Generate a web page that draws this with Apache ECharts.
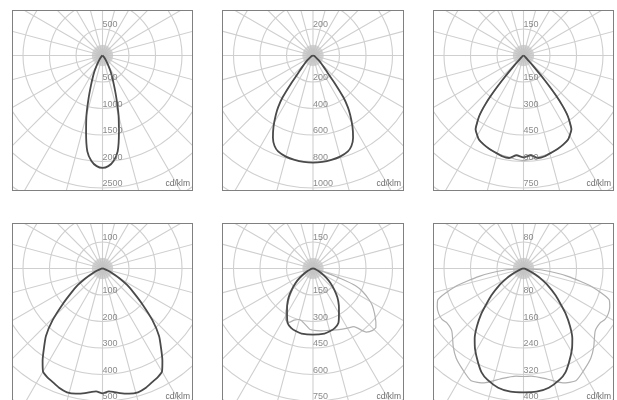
<!DOCTYPE html>
<html>
<head>
<meta charset="utf-8">
<script src="https://cdn.jsdelivr.net/npm/echarts@6/dist/echarts.min.js"></script>
<style>
  html, body { margin: 0; padding: 0; background: #fff; width: 617px; height: 400px; overflow: hidden; }
  .box { position: absolute; width: 181px; height: 181px; border: 1px solid #808080; box-sizing: border-box; overflow: hidden; background: #fff; }
  .box > div { width: 100%; height: 100%; }
</style>
</head>
<body>
<div class="box" style="left:12px;top:10px;"><div id="c1"></div></div>
<div class="box" style="left:222px;top:10px;width:182px;"><div id="c2"></div></div>
<div class="box" style="left:433px;top:10px;"><div id="c3"></div></div>
<div class="box" style="left:12px;top:223px;"><div id="c4"></div></div>
<div class="box" style="left:222px;top:223px;width:182px;"><div id="c5"></div></div>
<div class="box" style="left:433px;top:223px;"><div id="c6"></div></div>
<script>
// ---- ring steps and tick labels (cd/klm) ----
const steps = [500, 200, 150, 100, 150, 80];
const ticks1 = [500, 1000, 1500, 2000, 2500];
const ticks2 = [200, 400, 600, 800, 1000];
const ticks3 = [150, 300, 450, 600, 750];
const ticks4 = [100, 200, 300, 400, 500];
const ticks5 = [150, 300, 450, 600, 750];
const ticks6 = [80, 160, 240, 320, 400];
const unitLabel = 'cd/klm';

// ---- luminous intensity curves: gamma angle (deg from nadir) and value (cd/klm) ----
const p1Angles = [0, 3, 6, 9, 12, 15, 18, 21, 24, 27, 30, 35, 40, 45, 50, 60, 70, 80, 90];
const p1Dark   = [2120, 2090, 2000, 1830, 1490, 1170, 850, 610, 450, 330, 225, 113, 57, 30, 15, 6, 2, 0, 0];

const p2Angles = [0, 5, 10, 15, 20, 23, 26, 29, 32, 34, 36, 38, 40, 43, 46, 50, 60, 70, 80, 90];
const p2Dark   = [808, 806, 800, 790, 770, 742, 690, 615, 530, 470, 390, 270, 175, 120, 85, 55, 20, 8, 3, 0];

const p3Angles = [0, 4, 8, 12, 16, 20, 24, 28, 31, 33, 35, 36, 37, 38, 39, 40, 41, 42, 44, 47, 50, 60, 90];
const p3Dark   = [577, 566, 586, 583, 572, 563, 552, 538, 515, 498, 453, 430, 396, 351, 294, 226, 158, 102, 51, 23, 11, 6, 0];
const p3Light  = [595, 590, 582, 578, 572, 563, 552, 538, 515, 498, 453, 430, 396, 351, 294, 226, 158, 102, 51, 23, 11, 6, 0];

const p4Angles = [0, 3, 5, 8, 12, 16, 20, 24, 27, 30, 33, 36, 40, 44, 48, 52, 56, 60, 65, 70, 75, 80, 90];
const p4Dark   = [471, 464, 467, 475, 483, 486, 479, 467, 460, 449, 415, 377, 332, 271, 204, 151, 113, 75, 38, 19, 8, 4, 0];

const p5Angles = [0, 10, 15, 20, 25, 30, 35, 40, 45, 50, 55, 60, 65, 70, 80, 90];
const p5Dark   = [374, 374, 368, 359, 340, 294, 255, 215, 170, 130, 91, 57, 34, 17, 6, 0];
const p5LightRightAngles = [0, 8, 15, 23, 30, 35, 40, 44, 47, 50, 54, 58, 61, 65, 68, 70, 72, 75, 80, 90];
const p5LightRight       = [351, 357, 362, 376, 390, 402, 470, 487, 487, 464, 430, 396, 362, 311, 260, 170, 85, 34, 11, 0];
const p5LightLeftAngles  = [0, 3, 10, 15, 20, 24, 28, 32, 36, 40, 50, 60, 70, 90];
const p5LightLeft        = [350, 345, 311, 299, 311, 334, 328, 290, 240, 205, 125, 51, 11, 0];

const p6Angles = [0, 6, 12, 18, 22, 26, 31, 35, 39, 43, 46, 50, 55, 60, 63, 67, 72, 80, 90];
const p6Dark   = [374, 374, 368, 353, 338, 314, 284, 257, 223, 187, 157, 127, 91, 57, 39, 21, 9, 3, 0];
const p6LightAngles = [0, 4, 12, 19, 25, 31, 37, 42, 49, 55, 58, 62, 66, 70, 75, 80, 85, 90];
const p6Light       = [326, 326, 341, 365, 374, 356, 338, 317, 287, 284, 290, 290, 285, 275, 215, 136, 60, 0];

// build a curve: left half (angle 360-g) then right half (angle g)
function curve(leftA, leftV, rightA, rightV) {
  const pts = [];
  for (let i = leftA.length - 1; i >= 0; i--) pts.push([leftV[i], 360 - leftA[i]]);
  for (let i = 0; i < rightA.length; i++) pts.push([rightV[i], rightA[i]]);
  return pts;
}

const DARK = '#4a4a4a', LIGHT = '#b0b0b0';
const panels = [
  { id: 'c1', step: steps[0], ticks: ticks1, curves: [
      { color: DARK, width: 1.8, data: curve(p1Angles, p1Dark, p1Angles, p1Dark) } ] },
  { id: 'c2', step: steps[1], ticks: ticks2, curves: [
      { color: DARK, width: 1.8, data: curve(p2Angles, p2Dark, p2Angles, p2Dark) } ] },
  { id: 'c3', step: steps[2], ticks: ticks3, curves: [
      { color: LIGHT, width: 1.2, data: curve(p3Angles, p3Light, p3Angles, p3Light) },
      { color: DARK, width: 1.8, data: curve(p3Angles, p3Dark, p3Angles, p3Dark) } ] },
  { id: 'c4', step: steps[3], ticks: ticks4, curves: [
      { color: DARK, width: 1.8, data: curve(p4Angles, p4Dark, p4Angles, p4Dark) } ] },
  { id: 'c5', step: steps[4], ticks: ticks5, curves: [
      { color: LIGHT, width: 1.2, data: curve(p5LightLeftAngles, p5LightLeft, p5LightRightAngles, p5LightRight) },
      { color: DARK, width: 1.8, data: curve(p5Angles, p5Dark, p5Angles, p5Dark) } ] },
  { id: 'c6', step: steps[5], ticks: ticks6, curves: [
      { color: LIGHT, width: 1.2, data: curve(p6LightAngles, p6Light, p6LightAngles, p6Light) },
      { color: DARK, width: 1.8, data: curve(p6Angles, p6Dark, p6Angles, p6Dark) } ] }
];

const RING_PX = 26.5;
const GRID = '#cfcfcf';
const FONT = 'Liberation Sans, Arial, sans-serif';

panels.forEach(p => {
  const chart = echarts.init(document.getElementById(p.id), null, { renderer: 'canvas' });
  const center = ['50%', 44.5];
  const labelStyle = { show: true, position: 'right', distance: 0, offset: [0, -4],
    color: '#6e6e6e', fontSize: 9, fontFamily: FONT, formatter: o => String(o.value[0]) };
  const series = [];
  p.curves.forEach(c => series.push({
    type: 'line', coordinateSystem: 'polar', polarIndex: 0, data: c.data,
    symbol: 'none', smooth: 0.2, silent: true, animation: false,
    lineStyle: { color: c.color, width: c.width }, z: 5
  }));
  series.push({
    type: 'scatter', coordinateSystem: 'polar', polarIndex: 0, symbolSize: 0, silent: true, animation: false,
    data: p.ticks.map(t => [t, 0]).concat([[p.ticks[0], 180]]),
    label: labelStyle, z: 6
  });
  chart.setOption({
    animation: false,
    polar: [
      { center: center, radius: RING_PX * 7 },
      { center: center, radius: RING_PX * 0.4 }
    ],
    angleAxis: [
      { polarIndex: 0, type: 'value', min: 0, max: 360, interval: 15, startAngle: 270, clockwise: false,
        axisLine: { show: false }, axisTick: { show: false }, axisLabel: { show: false },
        splitLine: { show: true, lineStyle: { color: GRID, width: 1.1 } } },
      { polarIndex: 1, type: 'value', min: 0, max: 360, interval: 5, startAngle: 270, clockwise: false,
        axisLine: { show: false }, axisTick: { show: false }, axisLabel: { show: false },
        splitLine: { show: true, lineStyle: { color: '#c4c4c4', width: 0.8 } } }
    ],
    radiusAxis: [
      { polarIndex: 0, type: 'value', min: 0, max: p.step * 7, interval: p.step,
        axisLine: { show: false }, axisTick: { show: false }, axisLabel: { show: false },
        splitLine: { show: true, lineStyle: { color: GRID, width: 1.1 } } },
      { polarIndex: 1, type: 'value', min: 0, max: 1, interval: 1,
        axisLine: { show: false }, axisTick: { show: false }, axisLabel: { show: false },
        splitLine: { show: false } }
    ],
    graphic: [{ type: 'text', right: 2, top: 168, z: 10, silent: true,
      style: { text: unitLabel, fill: '#6e6e6e', fontSize: 8.5, fontFamily: FONT } }],
    series: series
  });
});
</script>
</body>
</html>
